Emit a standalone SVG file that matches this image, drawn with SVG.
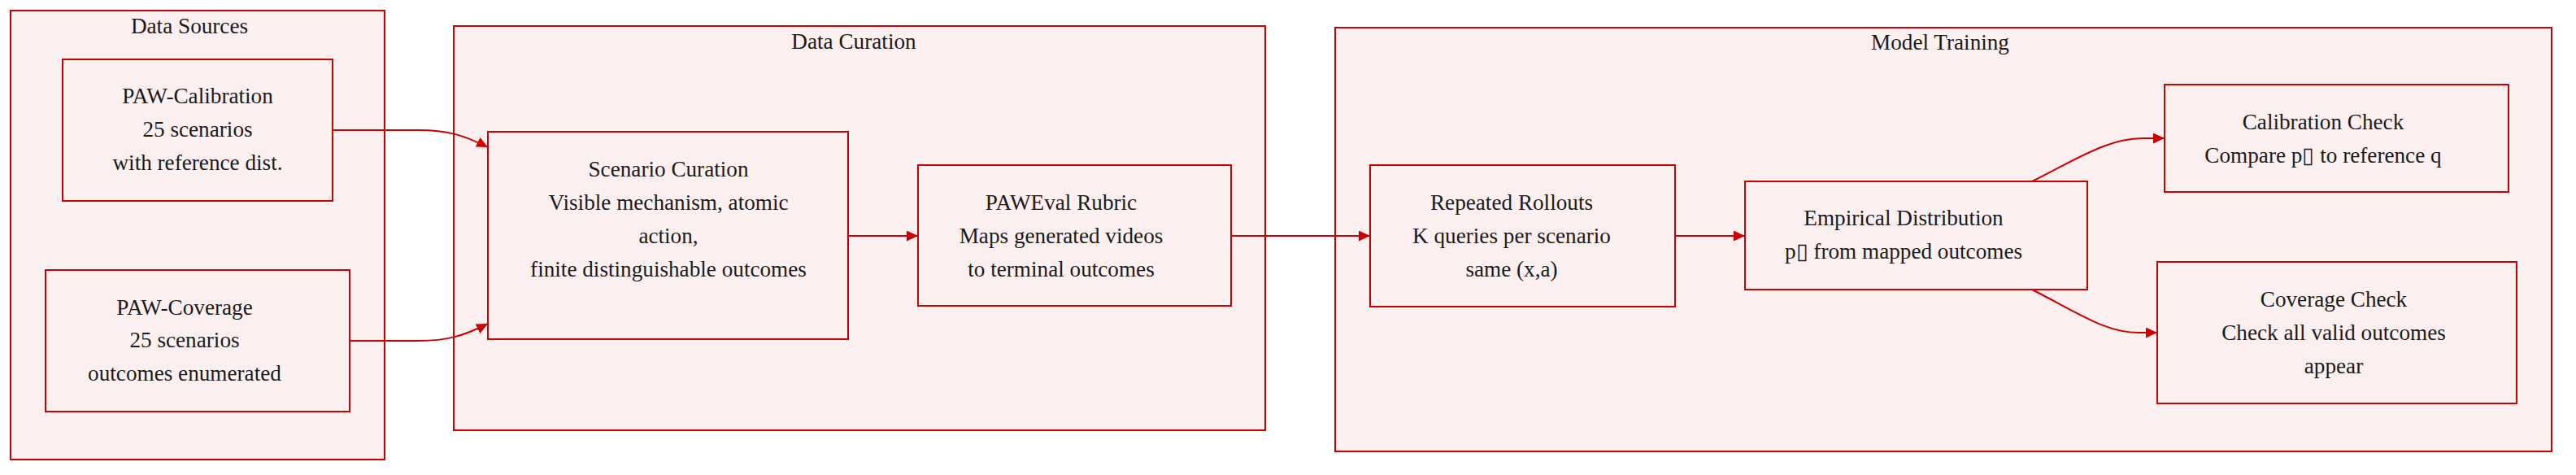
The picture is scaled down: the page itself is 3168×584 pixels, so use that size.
<svg xmlns="http://www.w3.org/2000/svg" width="3168" height="584" viewBox="0 0 3168 584">
<style>
.cluster{fill:#fcefef;stroke:#cc0000;stroke-width:2}
.node rect{fill:#fcefef;stroke:#cc0000;stroke-width:2}
text{font-family:"Liberation Serif","Times New Roman",serif;font-size:27.2px;fill:#1a1a1a;text-anchor:middle;dominant-baseline:central}
.edge{fill:none;stroke:#cc0000;stroke-width:2}
</style>
<defs>
<marker id="arrow" viewBox="0 0 14 13" refX="14" refY="6.5" markerWidth="14" markerHeight="13" markerUnits="userSpaceOnUse" orient="auto">
<path d="M0,0 L14,6.5 L0,13 Z" fill="#cc0000"/>
</marker>
</defs>
<g id="cluster-data-sources">
<rect class="cluster" x="13" y="13" width="460" height="552"/>
<text x="233" y="32">Data Sources</text>
</g>
<g id="cluster-data-curation">
<rect class="cluster" x="558" y="32" width="998" height="497"/>
<text x="1050" y="51">Data Curation</text>
</g>
<g id="cluster-model-training">
<rect class="cluster" x="1642" y="34" width="1496" height="521"/>
<text x="2386" y="52">Model Training</text>
</g>
<g id="edges">
<path class="edge" d="M409,160 L515,160 C550,160 570,166 600,181" marker-end="url(#arrow)"/>
<path class="edge" d="M430,419 L515,419 C550,419 570,413 600,398" marker-end="url(#arrow)"/>
<path class="edge" d="M1043,290 L1129,290" marker-end="url(#arrow)"/>
<path class="edge" d="M1514,290 L1685,290" marker-end="url(#arrow)"/>
<path class="edge" d="M2060,290 L2146,290" marker-end="url(#arrow)"/>
<path class="edge" d="M2499,223 C2560,192 2595,170 2635,170 L2662,170" marker-end="url(#arrow)"/>
<path class="edge" d="M2499,356 C2560,387 2590,409 2630,409 L2653,409" marker-end="url(#arrow)"/>
</g>
<g id="node-paw-calibration" class="node">
<rect x="77" y="73" width="332" height="174"/>
<text x="243" y="118">PAW-Calibration</text>
<text x="243" y="159">25 scenarios</text>
<text x="243" y="200">with reference dist.</text>
</g>
<g id="node-paw-coverage" class="node">
<rect x="56" y="332" width="374" height="174"/>
<text x="227" y="378">PAW-Coverage</text>
<text x="227" y="418">25 scenarios</text>
<text x="227" y="459">outcomes enumerated</text>
</g>
<g id="node-scenario-curation" class="node">
<rect x="600" y="162" width="443" height="255"/>
<text x="822" y="208">Scenario Curation</text>
<text x="822" y="249">Visible mechanism, atomic</text>
<text x="822" y="290">action,</text>
<text x="822" y="331">finite distinguishable outcomes</text>
</g>
<g id="node-paweval-rubric" class="node">
<rect x="1129" y="203" width="385" height="173"/>
<text x="1305" y="249">PAWEval Rubric</text>
<text x="1305" y="290">Maps generated videos</text>
<text x="1305" y="331">to terminal outcomes</text>
</g>
<g id="node-repeated-rollouts" class="node">
<rect x="1685" y="203" width="375" height="174"/>
<text x="1859" y="249">Repeated Rollouts</text>
<text x="1859" y="290">K queries per scenario</text>
<text x="1859" y="331">same (x,a)</text>
</g>
<g id="node-empirical-distribution" class="node">
<rect x="2146" y="223" width="421" height="133"/>
<text x="2341" y="268">Empirical Distribution</text>
<text x="2341" y="309">p▯ from mapped outcomes</text>
</g>
<g id="node-calibration-check" class="node">
<rect x="2662" y="104" width="423" height="132"/>
<text x="2857" y="150">Calibration Check</text>
<text x="2857" y="191">Compare p▯ to reference q</text>
</g>
<g id="node-coverage-check" class="node">
<rect x="2653" y="322" width="442" height="174"/>
<text x="2870" y="368">Coverage Check</text>
<text x="2870" y="409">Check all valid outcomes</text>
<text x="2870" y="450">appear</text>
</g>
</svg>
